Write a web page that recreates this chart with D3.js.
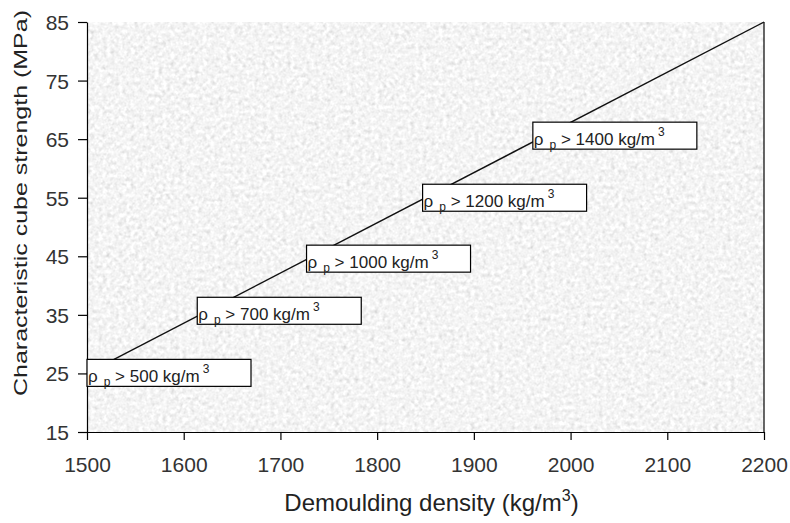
<!DOCTYPE html>
<html>
<head>
<meta charset="utf-8">
<script src="https://cdn.jsdelivr.net/npm/d3@7"></script>
<style>
  html, body { margin: 0; padding: 0; background: #fff; }
  svg { display: block; font-family: "Liberation Sans", Arial, sans-serif; }
</style>
</head>
<body>
<svg id="chart" width="790" height="523"></svg>
<script>
// Strength line: demoulding density vs characteristic cube strength
const lineDensity = [1500, 2200];
const lineStrength = [25, 85];

// Particle density thresholds and where each tag sits (density, strength at the tag's top-left)
const tagDensityLimit = [500, 700, 1000, 1200, 1400];
const tagAnchorDensity = [1500, 1614, 1727, 1847, 1961];
const tagAnchorStrength = [27.4, 38.0, 46.9, 57.3, 67.9];

// Axis ticks
const xTicks = [1500, 1600, 1700, 1800, 1900, 2000, 2100, 2200];
const yTicks = [15, 25, 35, 45, 55, 65, 75, 85];

const W = 790, H = 523;
const margin = { top: 22, right: 26, bottom: 91, left: 87 };
const innerW = W - margin.left - margin.right;
const innerH = H - margin.top - margin.bottom;

const svg = d3.select("#chart");

const x = d3.scaleLinear().domain([1500, 2200]).range([0, innerW]);
const y = d3.scaleLinear().domain([15, 85]).range([innerH, 0]);

// Grainy grey fill for the plotting area
const defs = svg.append("defs");
const f = defs.append("filter").attr("id", "grain")
  .attr("x", 0).attr("y", 0).attr("width", 1).attr("height", 1);
f.append("feTurbulence").attr("type", "fractalNoise")
  .attr("baseFrequency", "0.25").attr("numOctaves", 3).attr("seed", 7).attr("result", "n");
f.append("feColorMatrix").attr("in", "n").attr("type", "matrix")
  .attr("values", "0.33 0.33 0.33 0 0  0.33 0.33 0.33 0 0  0.33 0.33 0.33 0 0  0 0 0 0 1")
  .attr("result", "g");
const ct = f.append("feComponentTransfer").attr("in", "g");
["feFuncR", "feFuncG", "feFuncB"].forEach(fn =>
  ct.append(fn).attr("type", "linear").attr("slope", 0.8).attr("intercept", 0.51));

const g = svg.append("g").attr("transform", `translate(${margin.left},${margin.top})`);

g.append("rect")
  .attr("width", innerW).attr("height", innerH)
  .attr("fill", "#e4e4e4")
  .attr("filter", "url(#grain)");

// Right frame edge
g.append("line")
  .attr("x1", innerW).attr("x2", innerW).attr("y1", 0).attr("y2", innerH)
  .attr("stroke", "#000").attr("stroke-width", 1.2);

// Strength line
const pts = lineDensity.map((d, i) => [d, lineStrength[i]]);
g.append("path")
  .datum(pts)
  .attr("fill", "none").attr("stroke", "#111").attr("stroke-width", 1.4)
  .attr("d", d3.line().x(d => x(d[0])).y(d => y(d[1])));

// Axes
const xAxis = g.append("g").attr("transform", `translate(0,${innerH})`)
  .call(d3.axisBottom(x).tickValues(xTicks).tickFormat(d3.format("d")).tickSize(8).tickSizeOuter(0));
const yAxis = g.append("g")
  .call(d3.axisLeft(y).tickValues(yTicks).tickFormat(d3.format("d")).tickSize(9).tickSizeOuter(0));

[xAxis, yAxis].forEach(a => {
  a.select(".domain").attr("stroke", "#000").attr("stroke-width", 1.2);
  a.selectAll(".tick line").attr("stroke", "#000").attr("stroke-width", 1.2);
  a.selectAll(".tick text").attr("fill", "#333").style("font-size", "21px")
    .style("font-family", "'Liberation Sans', Arial, sans-serif");
});
xAxis.selectAll(".tick text").attr("dy", "0").attr("y", 40);
yAxis.selectAll(".tick text").attr("x", -18).attr("dy", "0.36em");

// Threshold tags
const tagW = 164, tagH = 27;
tagDensityLimit.forEach((lim, i) => {
  const tx = x(tagAnchorDensity[i]), ty = y(tagAnchorStrength[i]);
  const tg = g.append("g").attr("transform", `translate(${tx},${ty})`);
  tg.append("rect").attr("width", tagW).attr("height", tagH)
    .attr("fill", "#fff").attr("stroke", "#000").attr("stroke-width", 1.2);
  const t = tg.append("text").attr("x", 1).attr("y", 23)
    .attr("fill", "#222").style("font-size", "17px");
  t.append("tspan").text("ρ");
  t.append("tspan").attr("dx", 6).attr("dy", 4).style("font-size", "12px").text("p");
  t.append("tspan").attr("dy", -4).text(` > ${lim} kg/m`);
  t.append("tspan").attr("dx", 3).attr("dy", -9).style("font-size", "12px").text("3");
});

// Axis titles
const xt = svg.append("text")
  .attr("x", margin.left + innerW / 2 + 6).attr("y", 511)
  .attr("text-anchor", "middle").attr("fill", "#222").style("font-size", "24px");
xt.append("tspan").text("Demoulding density (kg/m");
xt.append("tspan").attr("dy", -10).style("font-size", "16px").text("3");
xt.append("tspan").attr("dy", 10).text(")");

svg.append("text")
  .attr("transform", `translate(27,${margin.top + innerH / 2 - 24}) rotate(-90)`)
  .attr("text-anchor", "middle").attr("fill", "#222").style("font-size", "19px")
  .attr("textLength", 386).attr("lengthAdjust", "spacingAndGlyphs")
  .text("Characteristic cube strength (MPa)");
</script>
</body>
</html>
